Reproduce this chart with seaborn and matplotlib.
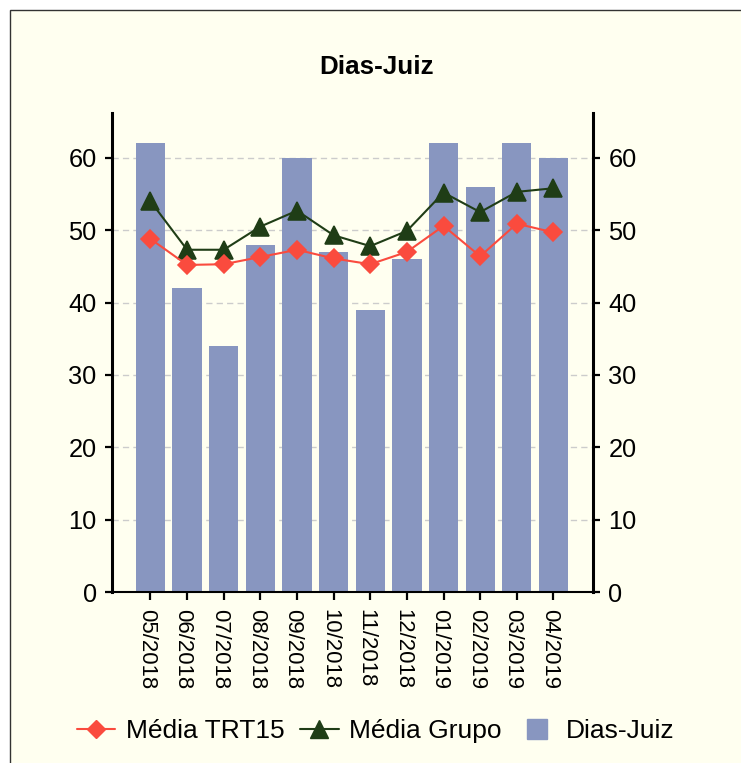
import numpy as np
import pandas as pd
import matplotlib
matplotlib.use("Agg")
import matplotlib.pyplot as plt
import matplotlib.transforms as mtransforms
from matplotlib.lines import Line2D
from matplotlib.patches import Rectangle
import seaborn as sns

# ================= data =================
meses = ['05/2018', '06/2018', '07/2018', '08/2018', '09/2018', '10/2018',
         '11/2018', '12/2018', '01/2019', '02/2019', '03/2019', '04/2019']
dias_juiz = [62, 42, 34, 48, 60, 47, 39, 46, 62, 56, 62, 60]
media_grupo = [54.0, 47.3, 47.3, 50.5, 52.7, 49.3, 47.8, 49.9, 55.2, 52.5, 55.3, 55.8]
media_trt15 = [48.8, 45.2, 45.3, 46.3, 47.3, 46.1, 45.3, 47.0, 50.6, 46.4, 50.9, 49.7]
y_ticks = [0, 10, 20, 30, 40, 50, 60]

# ================= style =================
BG = '#fffff0'
BAR_COLOR = '#8896c0'
RED = '#fa4b3e'
GREEN = '#1f3d16'

sns.set_style("white")
plt.rcParams['font.family'] = ['Liberation Sans', 'DejaVu Sans']
plt.rcParams['text.color'] = 'black'
plt.rcParams['xtick.color'] = 'black'
plt.rcParams['ytick.color'] = 'black'

fig = plt.figure(figsize=(7.41, 7.63), dpi=100, facecolor='white')
# ivory panel with thin frame (only top/left edges visible in the crop)
fig.patches.append(Rectangle((10 / 741, -0.1), 1.2, 1.1 - 10 / 763,
                             transform=fig.transFigure, facecolor=BG,
                             edgecolor='#333333', linewidth=1.0, zorder=-10))

ax = fig.add_axes([112 / 741, 1 - 592 / 763, (593 - 112) / 741, (592 - 113) / 763])
ax.set_facecolor('none')

df = pd.DataFrame({'mes': meses, 'dias': dias_juiz,
                   'grupo': media_grupo, 'trt15': media_trt15})

sns.barplot(data=df, x='mes', y='dias', color=BAR_COLOR, saturation=1,
            width=0.8, linewidth=0, edgecolor='none', ax=ax, zorder=2)
sns.pointplot(data=df, x='mes', y='grupo', color=GREEN, errorbar=None,
              marker='^', markersize=13.5, linewidth=1.5, ax=ax, zorder=3)
sns.pointplot(data=df, x='mes', y='trt15', color=RED, errorbar=None,
              marker='D', markersize=9.5, linewidth=1.5, ax=ax, zorder=4)

ax.set_xlim(-1.05, 12.08)
ax.set_ylim(0, 66.2)
ax.set_yticks(y_ticks)
ax.set_xlabel('')
ax.set_ylabel('')

ax.set_axisbelow(True)
ax.yaxis.grid(True, color='#cccccc', linestyle=(0, (4.5, 3)), linewidth=1.0)
ax.xaxis.grid(False)

for side in ['left', 'right']:
    ax.spines[side].set_visible(True)
    ax.spines[side].set_linewidth(2.2)
    ax.spines[side].set_color('black')
ax.spines['bottom'].set_linewidth(1.5)
ax.spines['bottom'].set_color('black')
ax.spines['top'].set_visible(False)

ax.tick_params(axis='y', left=True, right=True, labelleft=True, labelright=True,
               length=5, width=1.6, pad=6, labelsize=18.3, colors='black')
ax.tick_params(axis='x', bottom=True, length=5.5, width=1.6, pad=7,
               labelsize=15.9, colors='black')
ax.set_xticks(range(len(meses)))
ax.set_xticklabels(meses, rotation=270, ha='center', va='top')
# rotated labels: nudge left so glyphs sit centred under each tick
shift = mtransforms.ScaledTranslation(-4 / 100, 0, fig.dpi_scale_trans)
for lbl in ax.get_xticklabels():
    lbl.set_transform(lbl.get_transform() + shift)

fig.text(377 / 741, 1 - 67 / 763, 'Dias-Juiz', ha='center', va='center',
         fontsize=18.7, fontweight='bold', color='black')

handles = [
    Line2D([], [], color=RED, marker='D', markersize=9.5, linewidth=1.5),
    Line2D([], [], color=GREEN, marker='^', markersize=13.5, linewidth=1.5),
    Line2D([], [], color=BAR_COLOR, marker='s', markersize=15, linestyle='none'),
]
labels = ['Média TRT15', 'Média Grupo', 'Dias-Juiz']
fig.legend(handles, labels, loc='center', bbox_to_anchor=(376 / 741, 1 - 731 / 763),
           ncol=3, frameon=False, fontsize=19, handlelength=1.45,
           handletextpad=0.4, columnspacing=0.6, labelcolor='black')

fig.savefig('out.png', dpi=100, facecolor='white')
